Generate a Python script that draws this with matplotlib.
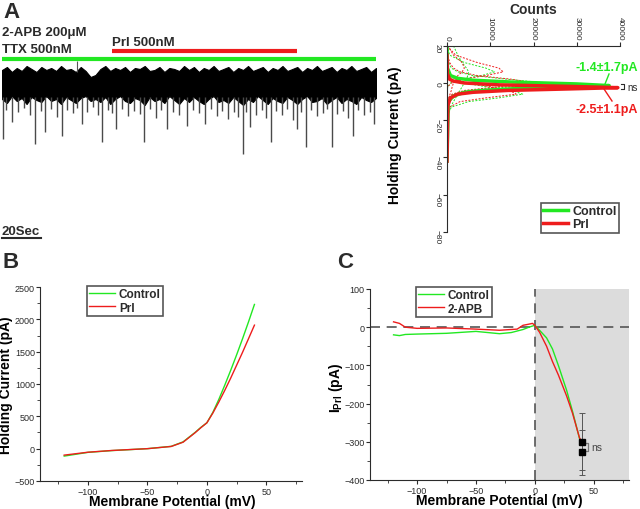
import matplotlib
matplotlib.use("Agg")
import matplotlib.pyplot as plt
from matplotlib.lines import Line2D
from matplotlib.ticker import MultipleLocator

plt.rcParams['font.family'] = ['Liberation Sans', 'DejaVu Sans']
plt.rcParams['text.color'] = '#2b2b2b'
plt.rcParams['axes.edgecolor'] = '#2b2b2b'
plt.rcParams['xtick.color'] = '#2b2b2b'
plt.rcParams['ytick.color'] = '#2b2b2b'

GREEN = '#22e822'
RED = '#ee1c1c'

# ---- panel A: raw trace (envelope + spikes, arbitrary pA) ----
trace_t = [0, 2.5, 5, 7.5, 10, 12.5, 15, 17.5, 20, 22.5, 25, 27.5, 30, 32.5, 35, 37.5, 40, 42.5, 45, 47.5,
           50, 52.5, 55, 57.5, 60, 62.5, 65, 67.5, 70, 72.5, 75, 77.5, 80, 82.5, 85, 87.5, 90, 92.5, 95, 97.5,
           100, 102.5, 105, 107.5, 110, 112.5, 115, 117.5, 120, 122.5, 125, 127.5, 130, 132.5, 135, 137.5,
           140, 142.5, 145, 147.5, 150, 152.5, 155, 157.5, 160, 162.5, 165, 167.5, 170, 172.5, 175, 177.5,
           180, 182.5, 185, 187.5, 190]
trace_top = [12, 15, 10, 14, 11, 16, 13, 10, 15, 12, 14, 11, 16, 12, 13, 10, 15, 11, 5, 7,
             13, 16, 11, 14, 12, 15, 10, 14, 13, 16, 11, 12, 15, 10, 14, 13, 11, 16, 12, 15,
             10, 14, 12, 16, 11, 13, 15, 10, 14, 12, 16, 11, 13, 15, 10, 14,
             12, 16, 11, 13, 15, 10, 14, 12, 16, 11, 13, 15, 10, 14, 12, 16,
             11, 13, 15, 10, 14]
trace_bottom = [-17, -21, -14, -19, -16, -22, -15, -18, -20, -14, -19, -17, -22, -15, -18, -21, -16, -14, -19, -17,
                -20, -15, -22, -17, -14, -19, -21, -16, -18, -23, -15, -19, -17, -21, -14, -18, -22, -16, -20, -15,
                -19, -22, -17, -14, -20, -18, -21, -15, -19, -23, -17, -20, -14, -18, -22, -16,
                -19, -21, -15, -18, -22, -17, -14, -20, -19, -16, -22, -18, -15, -21, -17, -19,
                -22, -15, -18, -20, -16]
spike_t = [0.5, 2, 5, 8, 11, 14, 17, 20, 22, 25, 28, 30.5, 33, 36, 38, 40.6, 43, 46, 49, 51,
           54, 56, 58, 61, 64, 67, 70, 72, 75, 78, 81, 84, 87, 90, 94, 97, 100, 103, 106, 109,
           112, 115, 118, 120, 122.4, 124, 126, 129, 132, 134, 136.7, 139, 142, 145, 148, 150, 152, 154.4, 157, 160,
           163, 165, 167.6, 170, 173, 176, 178.3, 181, 184, 187, 189]
spike_depth = [-57, -28, -40, -30, -26, -33, -62, -29, -50, -27, -35, -54, -28, -31, -26, -42, -30, -25, -33, -60,
               -28, -31, -47, -27, -34, -29, -32, -60, -27, -36, -28, -47, -30, -33, -44, -28, -31, -42, -27, -34,
               -29, -37, -30, -35, -72, -30, -45, -33, -28, -36, -60, -29, -33, -27, -38, -47, -30, -65, -28, -34,
               -31, -27, -65, -32, -29, -36, -54, -28, -33, -30, -42]

# ---- panel A right: all-points histograms ----
hist_I = [20, 15, 11, 8, 6, 4, 2, 0, -2, -4, -6, -8, -10, -13, -17, -42]
ctl_cells = [
    [0, 600, 4000, 9000, 11000, 8000, 3000, 800, 200, 0, 0, 0, 0, 0, 0, 0],
    [0, 0, 0, 0, 100, 400, 1200, 4000, 9000, 15000, 17500, 12000, 5000, 1000, 200, 0],
    [0, 100, 400, 1000, 2500, 6000, 14000, 23000, 15000, 5000, 1500, 400, 100, 0, 0, 0],
    [1500, 2500, 3500, 4500, 5000, 4800, 4500, 4000, 3500, 3000, 2500, 2000, 1500, 800, 300, 0],
]
prl_cells = [
    [0, 2000, 7000, 12000, 13000, 9000, 3500, 1000, 200, 0, 0, 0, 0, 0, 0, 0],
    [0, 0, 0, 0, 200, 600, 2000, 5000, 10000, 14500, 16000, 9000, 3000, 600, 100, 0],
    [0, 200, 600, 1500, 3000, 7000, 15000, 20000, 12000, 4000, 1200, 300, 0, 0, 0, 0],
    [200, 1500, 3500, 4000, 3500, 2500, 2000, 1500, 1200, 1000, 700, 400, 200, 100, 0, 0],
]
ctl_mean_I = [20, 8, 4, 2.5, 1.5, 0.5, -0.5, -1.4, -2.2, -3, -4, -5, -7, -10, -42]
ctl_mean_counts = [0, 100, 800, 2500, 6000, 15000, 30000, 37500, 30000, 16000, 8000, 4000, 1500, 300, 0]
prl_mean_I = [15, 5, 2, 1, 0, -1, -1.8, -2.5, -3.2, -4, -5, -6, -8, -12, -42]
prl_mean_counts = [0, 100, 600, 1500, 4000, 12000, 28000, 39500, 28000, 14000, 6000, 2500, 800, 200, 0]

# ---- panel B: I-V ----
iv_v = [-120, -100, -80, -50, -30, -20, -10, -5, 0, 5, 10, 15, 20, 25, 30, 35, 40]
iv_control = [-115, -57, -30, 0, 36, 105, 250, 330, 400, 560, 760, 980, 1210, 1450, 1700, 1960, 2230]
iv_prl = [-100, -55, -28, 0, 34, 100, 245, 325, 400, 550, 720, 900, 1090, 1290, 1490, 1700, 1910]

# ---- panel C: Prl-induced current ----
c_v = [-120, -115, -110, -100, -75, -50, -30, -20, -15, -10, -5, -2, 0, 4, 10, 15, 20, 27, 32, 38, 40]
c_control = [-20, -22, -19, -18, -16, -11, -17, -14, -10, -6, 0, 3, 5, -8, -28, -57, -100, -165, -220, -292, -305]
c_apb = [14, 10, 0, -3, -2, -5, -8, -6, -5, 5, 8, 10, 5, -13, -50, -90, -125, -180, -225, -290, -300]
c_pt_v = [40, 40]
c_pt_i = [-300, -328]
c_pt_err = [75, 58]

W, H = 640, 510
fig = plt.figure(figsize=(6.4, 5.1), dpi=100)


def box(x0, x1, ytop, ybot):
    return [x0 / W, 1 - ybot / H, (x1 - x0) / W, (ybot - ytop) / H]


# trace
axT = fig.add_axes(box(2, 376, 40, 160))
axT.fill_between(trace_t, trace_bottom, trace_top, color='black', lw=0.8)
axT.vlines(spike_t, -15, spike_depth, color='#4a4a4a', lw=1.0)
axT.vlines([38], 10, 21, color='#555555', lw=0.8)
axT.plot([0, 190], [23, 23], color=GREEN, lw=3, solid_capstyle='butt')
axT.plot([56, 150], [31, 31], color=RED, lw=3, solid_capstyle='butt')
axT.set_xlim(0, 190)
axT.set_ylim(-77, 43)
axT.axis('off')

fig.text(3 / W, 1 - 12 / H, 'A', fontsize=16, fontweight='bold', va='center', ha='left')
fig.text(2 / W, 1 - 33 / H, '2-APB 200μM', fontsize=9.5, fontweight='bold', va='center')
fig.text(2 / W, 1 - 50 / H, 'TTX 500nM', fontsize=9.5, fontweight='bold', va='center')
fig.text(112 / W, 1 - 43 / H, 'Prl 500nM', fontsize=9.5, fontweight='bold', va='center')
fig.text(2 / W, 1 - 232 / H, '20Sec', fontsize=9.5, fontweight='bold', va='center')
fig.add_artist(Line2D([2 / W, 41 / W], [1 - 239 / H, 1 - 239 / H], color='#2b2b2b', lw=1.5))
fig.text(3 / W, 1 - 263 / H, 'B', fontsize=16, fontweight='bold', va='center')
fig.text(337 / W, 1 - 263 / H, 'C', fontsize=16, fontweight='bold', va='center')

# histogram
axH = fig.add_axes(box(447, 620, 46.8, 232.8))
for cnt in ctl_cells:
    axH.plot(cnt, hist_I, color=GREEN, lw=0.7, ls=(0, (2, 1.5)))
for cnt in prl_cells:
    axH.plot(cnt, hist_I, color=RED, lw=0.7, ls=(0, (2, 1.5)))
axH.plot(ctl_mean_counts, ctl_mean_I, color=GREEN, lw=2.5, label='Control')
axH.plot(prl_mean_counts, prl_mean_I, color=RED, lw=2.5, label='Prl')
axH.set_xlim(0, 40000)
axH.set_ylim(-80, 20)
axH.xaxis.tick_top()
axH.set_xticks([0, 10000, 20000, 30000, 40000])
axH.set_yticks([20, 0, -20, -40, -60, -80])
axH.tick_params(labelsize=6, length=3, pad=1.5, labelrotation=-90)
axH.spines['right'].set_visible(False)
axH.spines['bottom'].set_visible(False)
axH.text(0.497, 1.2, 'Counts', transform=axH.transAxes, fontsize=10, fontweight='bold', ha='center', va='center')
axH.set_ylabel('Holding Current (pA)', fontsize=10, fontweight='bold')
axH.yaxis.set_label_coords(-0.26, 0.526)
leg = axH.legend(loc='lower right', bbox_to_anchor=(0.994, -0.006), frameon=True, fancybox=False,
                 edgecolor='#2b2b2b', prop={'weight': 'bold', 'size': 9}, handlelength=2.0,
                 borderpad=0.2, labelspacing=0.1, handletextpad=0.3, borderaxespad=0)
leg.get_frame().set_linewidth(1.2)

fig.text(607 / W, 1 - 68 / H, '-1.4±1.7pA', fontsize=9, fontweight='bold', color=GREEN, ha='center', va='center')
fig.text(607 / W, 1 - 110 / H, '-2.5±1.1pA', fontsize=9, fontweight='bold', color=RED, ha='center', va='center')
fig.add_artist(Line2D([609 / W, 605 / W], [1 - 75 / H, 1 - 85 / H], color=GREEN, lw=1))
fig.add_artist(Line2D([604 / W, 612 / W], [1 - 90 / H, 1 - 102 / H], color=RED, lw=1))
fig.add_artist(Line2D([621 / W, 624 / W, 624 / W, 621 / W],
                      [1 - 85 / H, 1 - 85 / H, 1 - 90 / H, 1 - 90 / H], color='#2b2b2b', lw=0.8))
fig.text(627 / W, 1 - 88 / H, 'ns', fontsize=7, ha='left', va='center')

# panel B
axB = fig.add_axes(box(40.4, 302, 288, 482))
axB.plot(iv_v, iv_control, color=GREEN, lw=1, label='Control')
axB.plot(iv_v, iv_prl, color=RED, lw=1, label='Prl')
axB.set_xlim(-140, 80)
axB.set_ylim(-500, 2500)
axB.set_xticks([-100, -50, 0, 50])
axB.set_yticks([-500, 0, 500, 1000, 1500, 2000, 2500])
axB.xaxis.set_minor_locator(MultipleLocator(25))
axB.yaxis.set_minor_locator(MultipleLocator(250))
for s in ['top', 'right']:
    axB.spines[s].set_visible(False)
axB.tick_params(labelsize=6.5, length=3, pad=1)
axB.tick_params(which='minor', length=2)
axB.set_xlabel('Membrane Potential (mV)', fontsize=10, fontweight='bold')
axB.xaxis.set_label_coords(0.503, -0.068)
axB.set_ylabel('Holding Current (pA)', fontsize=10, fontweight='bold')
axB.yaxis.set_label_coords(-0.103, 0.5)
leg = axB.legend(loc='upper left', bbox_to_anchor=(0.178, 1.005), fancybox=False, edgecolor='#2b2b2b',
                 prop={'weight': 'bold', 'size': 8.5}, handlelength=2.2, borderpad=0.2,
                 labelspacing=0.1, handletextpad=0.3, borderaxespad=0)
leg.get_frame().set_linewidth(1.2)

# panel C
axC = fig.add_axes(box(370, 629, 290, 481))
axC.axvspan(0, 80, color='#dcdcdc', lw=0)
axC.axhline(0, color='#555555', lw=1.2, ls=(0, (6, 4)))
axC.axvline(0, color='#555555', lw=1.2, ls=(0, (6, 4)))
axC.plot(c_v, c_control, color=GREEN, lw=1, label='Control')
axC.plot(c_v, c_apb, color=RED, lw=1, label='2-APB')
axC.errorbar(c_pt_v, c_pt_i, yerr=c_pt_err, fmt='s', color='black', ms=4,
             ecolor='#555555', elinewidth=0.7, capsize=2, capthick=0.7)
axC.plot([42.5, 45.5, 45.5, 42.5], [-303, -303, -325, -325], color='#777777', lw=0.9)
axC.text(48, -314, 'ns', fontsize=7.5, color='#444444', va='center')
axC.set_xlim(-140, 80)
axC.set_ylim(-400, 100)
axC.set_xticks([-100, -50, 0, 50])
axC.set_yticks([-400, -300, -200, -100, 0, 100])
axC.xaxis.set_minor_locator(MultipleLocator(25))
axC.yaxis.set_minor_locator(MultipleLocator(50))
for s in ['top', 'right']:
    axC.spines[s].set_visible(False)
axC.tick_params(labelsize=6.5, length=3, pad=1)
axC.tick_params(which='minor', length=2)
axC.set_xlabel('Membrane Potential (mV)', fontsize=10, fontweight='bold')
axC.xaxis.set_label_coords(0.50, -0.07)
axC.set_ylabel('I$_{\\mathregular{Prl}}$ (pA)', fontsize=10, fontweight='bold')
axC.yaxis.set_label_coords(-0.097, 0.487)
leg = axC.legend(loc='upper left', bbox_to_anchor=(0.178, 1.01), fancybox=False, edgecolor='#2b2b2b',
                 prop={'weight': 'bold', 'size': 8.5}, handlelength=2.2, borderpad=0.2,
                 labelspacing=0.1, handletextpad=0.3, borderaxespad=0)
leg.get_frame().set_linewidth(1.2)

fig.savefig('out.png', dpi=100)
